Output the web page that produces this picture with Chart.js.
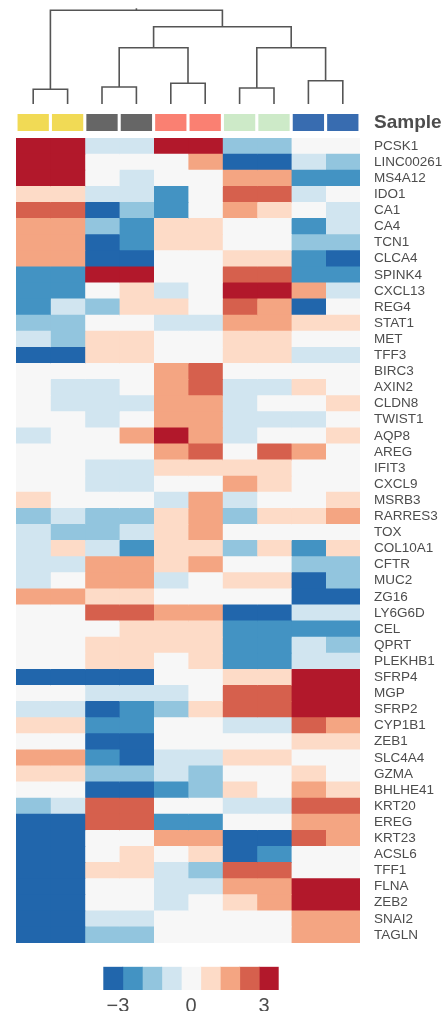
<!DOCTYPE html>
<html>
<head>
<meta charset="utf-8">
<title>Gene expression heatmap</title>
<script src="https://cdn.jsdelivr.net/npm/chart.js@4/dist/chart.umd.min.js"></script>
<style>
  html, body { margin: 0; padding: 0; background: #ffffff; }
  #page { position: relative; width: 446px; height: 1011px; overflow: hidden; }
  .panel { position: absolute; left: 0; width: 446px; }
</style>
</head>
<body>
<div id="page">
  <div class="panel" style="top:0;height:105px"><canvas id="dendro"></canvas></div>
  <div class="panel" style="top:108px;height:30px"><canvas id="track"></canvas></div>
  <div class="panel" style="top:138px;height:805px"><canvas id="heat"></canvas></div>
  <div class="panel" style="top:960px;height:51px"><canvas id="key"></canvas></div>
</div>
<script>
// ---- rows (genes), top to bottom ----
const genes = [
  'PCSK1', 'LINC00261', 'MS4A12', 'IDO1', 'CA1', 'CA4', 'TCN1', 'CLCA4', 'SPINK4', 'CXCL13',
  'REG4', 'STAT1', 'MET', 'TFF3', 'BIRC3', 'AXIN2', 'CLDN8', 'TWIST1', 'AQP8', 'AREG',
  'IFIT3', 'CXCL9', 'MSRB3', 'RARRES3', 'TOX', 'COL10A1', 'CFTR', 'MUC2', 'ZG16', 'LY6G6D',
  'CEL', 'QPRT', 'PLEKHB1', 'SFRP4', 'MGP', 'SFRP2', 'CYP1B1', 'ZEB1', 'SLC4A4', 'GZMA',
  'BHLHE41', 'KRT20', 'EREG', 'KRT23', 'ACSL6', 'TFF1', 'FLNA', 'ZEB2', 'SNAI2', 'TAGLN'
];

// ---- columns (samples), left to right, and their group ----
const samples = ['S1', 'S2', 'S3', 'S4', 'S5', 'S6', 'S7', 'S8', 'S9', 'S10'];
const sampleGroups = ['G1', 'G1', 'G2', 'G2', 'G3', 'G3', 'G4', 'G4', 'G5', 'G5'];
const groupColors = { G1: '#f1da55', G2: '#666666', G3: '#fa8072', G4: '#cdeac8', G5: '#386cb0' };
const trackLabel = 'Sample';

// ---- row-scaled expression (z-score), one array per sample, in gene order ----
const s1 = [3.2, 3.2, 3.2, 0.8, 2.4, 1.6, 1.6, 1.6, -2.4, -2.4, -2.4, -1.6, -0.8, -3.2, 0, 0, 0, 0, -0.8, 0,
  0, 0, 0.8, -1.6, -0.8, -0.8, -0.8, -0.8, 1.6, 0, 0, 0, 0, -3.2, 0, -0.8, 0.8, 0, 1.6, 0.8,
  0, -1.6, -3.2, -3.2, -3.2, -3.2, -3.2, -3.2, -3.2, -3.2];
const s2 = [3.2, 3.2, 3.2, 0.8, 2.4, 1.6, 1.6, 1.6, -2.4, -2.4, -0.8, -1.6, -1.6, -3.2, 0, -0.8, -0.8, 0, 0, 0,
  0, 0, 0, -0.8, -1.6, 0.8, -0.8, 0, 1.6, 0, 0, 0, 0, -3.2, 0, -0.8, 0.8, 0, 1.6, 0.8,
  0, -0.8, -3.2, -3.2, -3.2, -3.2, -3.2, -3.2, -3.2, -3.2];
const s3 = [-0.8, 0, 0, -0.8, -3.2, -1.6, -3.2, -3.2, 3.2, 0, -1.6, 0, 0.8, 0.8, 0, -0.8, -0.8, -0.8, 0, 0,
  -0.8, -0.8, 0, -1.6, -1.6, -0.8, 1.6, 1.6, 0.8, 2.4, 0, 0.8, 0.8, -3.2, -0.8, -3.2, -2.4, -3.2, -2.4, -1.6,
  -3.2, 2.4, 2.4, 0, 0, 0.8, 0, 0, -0.8, -1.6];
const s4 = [-0.8, 0, -0.8, -0.8, -1.6, -2.4, -2.4, -3.2, 3.2, 0.8, 0.8, 0, 0.8, 0.8, 0, 0, -0.8, 0, 1.6, 0,
  -0.8, -0.8, 0, -1.6, -0.8, -2.4, 1.6, 1.6, 0.8, 2.4, 0.8, 0.8, 0.8, -3.2, -0.8, -2.4, -2.4, -3.2, -3.2, -1.6,
  -3.2, 2.4, 2.4, 0, 0.8, 0.8, 0, 0, -0.8, -1.6];
const s5 = [3.2, 0, 0, -2.4, -2.4, 0.8, 0.8, 0, 0, -0.8, 0.8, -0.8, 0, 0, 1.6, 1.6, 1.6, 1.6, 3.2, 1.6,
  0.8, 0, -0.8, 0.8, 0.8, 0.8, 0.8, -0.8, 0, 1.6, 0.8, 0.8, 0, 0, -0.8, -1.6, 0, 0, -0.8, -0.8,
  -2.4, 0, -2.4, 1.6, 0, -0.8, -0.8, -0.8, 0, 0];
const s6 = [3.2, 1.6, 0, 0, 0, 0.8, 0.8, 0, 0, 0, 0, -0.8, 0, 0, 2.4, 2.4, 1.6, 1.6, 1.6, 2.4,
  0.8, 0, 1.6, 1.6, 1.6, 0.8, 1.6, 0, 0, 1.6, 0.8, 0.8, 0.8, 0, 0, 0.8, 0, 0, -0.8, -1.6,
  -1.6, 0, -2.4, 1.6, 0.8, -1.6, -0.8, 0, 0, 0];
const s7 = [-1.6, -3.2, 1.6, 2.4, 1.6, 0, 0, 0.8, 2.4, 3.2, 2.4, 1.6, 0.8, 0.8, 0, -0.8, -0.8, -0.8, -0.8, 0,
  0.8, 1.6, -0.8, -1.6, 0, -1.6, 0, 0.8, 0, -3.2, -2.4, -2.4, -2.4, 0.8, 2.4, 2.4, -0.8, 0, 0.8, 0,
  0.8, -0.8, 0, -3.2, -3.2, 2.4, 1.6, 0.8, 0, 0];
const s8 = [-1.6, -3.2, 1.6, 2.4, 0.8, 0, 0, 0.8, 2.4, 3.2, 1.6, 1.6, 0.8, 0.8, 0, -0.8, 0, -0.8, 0, 2.4,
  0.8, 0.8, 0, 0.8, 0, 0.8, 0, 0.8, 0, -3.2, -2.4, -2.4, -2.4, 0.8, 2.4, 2.4, -0.8, 0, 0.8, 0,
  0, -0.8, 0, -3.2, -2.4, 2.4, 1.6, 1.6, 0, 0];
const s9 = [0, -0.8, -2.4, -0.8, 0, -2.4, -1.6, -2.4, -2.4, 1.6, -3.2, 0.8, 0, -0.8, 0, 0.8, 0, -0.8, 0, 1.6,
  0, 0, 0, 0.8, 0, -2.4, -1.6, -3.2, -3.2, -0.8, -2.4, -0.8, -0.8, 3.2, 3.2, 3.2, 2.4, 0.8, 0, 0.8,
  1.6, 2.4, 1.6, 2.4, 0, 0, 3.2, 3.2, 1.6, 1.6];
const s10 = [0, -1.6, -2.4, 0, -0.8, -0.8, -1.6, -3.2, -2.4, -0.8, 0, 0.8, 0, -0.8, 0, 0, 0.8, 0, 0.8, 0,
  0, 0, 0.8, 1.6, 0, 0.8, -1.6, -1.6, -3.2, -0.8, -2.4, -1.6, -0.8, 3.2, 3.2, 3.2, 1.6, 0.8, 0, 0,
  0.8, 2.4, 1.6, 1.6, 0, 0, 3.2, 3.2, 1.6, 1.6];
const sampleValues = [s1, s2, s3, s4, s5, s6, s7, s8, s9, s10];

// ---- colour key: bin edges, bin colours, labelled ticks ----
const keyBreaks = [-3.6, -2.8, -2.0, -1.2, -0.4, 0.4, 1.2, 2.0, 2.8, 3.6];
const keyColors = ['#2166ac', '#4393c3', '#92c5de', '#d1e5f0', '#f7f7f7', '#fddbc7', '#f4a582', '#d6604d', '#b2182b'];
const keyTicks = [-3, 0, 3];

// ---- column clustering: [childA, childB, height]; ids >= 10 are earlier merges ----
const linkage = [
  [0, 1, 14.7],
  [6, 7, 16.0],
  [2, 3, 17.0],
  [4, 5, 20.7],
  [8, 9, 23.3],
  [12, 13, 56.3],
  [11, 14, 56.3],
  [15, 16, 77.3],
  [10, 17, 93.7]
];
const rootStub = 2;

const FONT = '"Liberation Sans", Arial, Helvetica, sans-serif';
const TEXT = '#4d4d4d';
const LINE = '#555555';
Chart.defaults.font.family = FONT;
Chart.defaults.animation = false;
Chart.defaults.responsive = true;
Chart.defaults.maintainAspectRatio = false;
Chart.defaults.plugins.legend.display = false;
Chart.defaults.plugins.tooltip.enabled = false;
Chart.defaults.events = [];

function colorFor(v) {
  for (let k = 0; k < keyColors.length; k++) {
    if (v < keyBreaks[k + 1]) return keyColors[k];
  }
  return keyColors[keyColors.length - 1];
}

// axes whose labels sit inside their band need no extra room at the ends
function noEndPadding(scale) {
  scale.paddingTop = 0;
  scale.paddingBottom = 0;
  scale.paddingLeft = 0;
  scale.paddingRight = 0;
}

// ---- dendrogram ----
const nodeX = samples.map((_, i) => i + 0.5);
const nodeH = samples.map(() => 0);
const dendroSets = [];
linkage.forEach(([a, b, h]) => {
  dendroSets.push({
    data: [
      { x: nodeX[a], y: nodeH[a] },
      { x: nodeX[a], y: h },
      { x: nodeX[b], y: h },
      { x: nodeX[b], y: nodeH[b] }
    ]
  });
  nodeX.push((nodeX[a] + nodeX[b]) / 2);
  nodeH.push(h);
});
const rootId = nodeX.length - 1;
dendroSets.push({
  data: [
    { x: nodeX[rootId], y: nodeH[rootId] },
    { x: nodeX[rootId], y: nodeH[rootId] + rootStub }
  ]
});
dendroSets.forEach(ds => Object.assign(ds, {
  showLine: true, borderColor: LINE, borderWidth: 1.6, pointRadius: 0,
  fill: false, tension: 0, clip: false
}));

new Chart(document.getElementById('dendro'), {
  type: 'scatter',
  data: { datasets: dendroSets },
  options: {
    layout: { padding: { left: 16, right: 86, top: 10, bottom: 1 } },
    scales: {
      x: { type: 'linear', min: 0, max: samples.length, display: false },
      y: { type: 'linear', min: 0, max: 94, display: false }
    }
  }
});

// ---- sample annotation track ----
new Chart(document.getElementById('track'), {
  type: 'bar',
  data: {
    labels: samples,
    datasets: [{
      data: samples.map(() => 1),
      backgroundColor: sampleGroups.map(g => groupColors[g]),
      borderWidth: 0,
      barPercentage: 0.91,
      categoryPercentage: 1
    }]
  },
  options: {
    layout: { padding: { left: 16, right: 0, top: 6, bottom: 7 } },
    scales: {
      x: { display: false },
      y: {
        position: 'right', min: 0, max: 1,
        grid: { display: false, drawTicks: false },
        border: { display: false },
        afterBuildTicks(scale) { scale.ticks = [{ value: 0.5 }]; },
        afterFit(scale) { scale.width = 86; noEndPadding(scale); },
        ticks: {
          callback: () => trackLabel,
          padding: 14,
          color: TEXT,
          font: { size: 19, weight: 'bold' }
        }
      }
    }
  }
});

// ---- heatmap: one floating-bar dataset per sample column ----
const heatSets = sampleValues.map((vals, c) => ({
  label: samples[c],
  data: genes.map(() => [c, c + 1]),
  backgroundColor: vals.map(colorFor),
  borderWidth: 0,
  grouped: false,
  barPercentage: 1,
  categoryPercentage: 1,
  inflateAmount: 0.4
}));

new Chart(document.getElementById('heat'), {
  type: 'bar',
  data: { labels: genes, datasets: heatSets },
  options: {
    indexAxis: 'y',
    layout: { padding: { left: 16, right: 0, top: 0, bottom: 0 } },
    scales: {
      x: { type: 'linear', min: 0, max: samples.length, display: false },
      y: {
        type: 'category',
        position: 'right',
        grid: { display: false, drawTicks: false },
        border: { display: false },
        afterFit(scale) { scale.width = 86; noEndPadding(scale); },
        ticks: {
          autoSkip: false,
          padding: 14,
          color: TEXT,
          font: { size: 13.5 }
        }
      }
    }
  }
});

// ---- colour key ----
new Chart(document.getElementById('key'), {
  type: 'bar',
  data: {
    labels: ['z'],
    datasets: keyColors.map((col, k) => ({
      data: [[keyBreaks[k], keyBreaks[k + 1]]],
      backgroundColor: col,
      borderWidth: 0,
      grouped: false,
      barPercentage: 1,
      categoryPercentage: 1,
      inflateAmount: 0.4
    }))
  },
  options: {
    indexAxis: 'y',
    layout: { padding: { left: 103.3, right: 167.3, top: 6.7, bottom: 0 } },
    scales: {
      y: { display: false },
      x: {
        type: 'linear',
        min: keyBreaks[0],
        max: keyBreaks[keyBreaks.length - 1],
        grid: { display: false, drawTicks: false },
        border: { display: false },
        afterBuildTicks(scale) { scale.ticks = keyTicks.map(v => ({ value: v })); },
        afterFit(scale) { scale.height = 21; noEndPadding(scale); },
        ticks: {
          maxRotation: 0,
          padding: 4,
          color: TEXT,
          font: { size: 20 },
          callback: v => (v < 0 ? '\u2212' + Math.abs(v) : String(v))
        }
      }
    }
  }
});
</script>
</body>
</html>
